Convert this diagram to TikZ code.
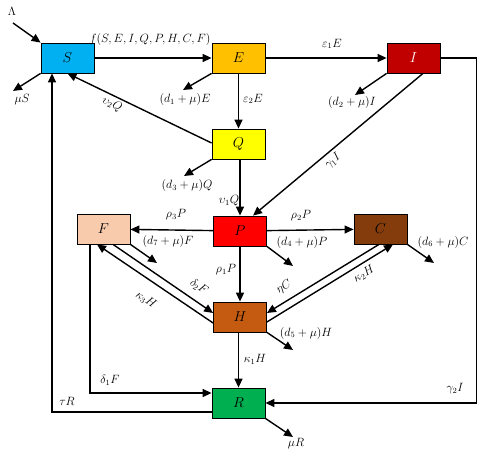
\documentclass[tikz,border=0pt]{standalone}
\usetikzlibrary{arrows.meta,calc}
\definecolor{cS}{RGB}{0,176,240}
\definecolor{cE}{RGB}{255,192,0}
\definecolor{cI}{RGB}{192,0,0}
\definecolor{cQ}{RGB}{255,255,0}
\definecolor{cP}{RGB}{255,0,0}
\definecolor{cF}{RGB}{248,203,173}
\definecolor{cC}{RGB}{132,60,12}
\definecolor{cH}{RGB}{197,90,17}
\definecolor{cR}{RGB}{0,176,80}
\begin{document}
\begin{tikzpicture}[x=1pt,y=-1pt,
  box/.style={draw,line width=0.8pt,minimum width=53pt,minimum height=30pt,inner sep=0pt,font=\fontsize{14}{16}\selectfont},
  arr/.style={line width=1.4pt,-{Triangle[length=9pt,width=8pt]}},
  lab/.style={font=\fontsize{12}{14}\selectfont,inner sep=0pt}]
\useasboundingbox (0,0) rectangle (492,462);
\node[box,fill=cS] (S) at (67.5,58) {$S$};
\node[box,fill=cE] (E) at (238.5,58) {$E$};
\node[box,fill=cI,text=white] (I) at (413.5,58) {$I$};
\node[box,fill=cQ] (Q) at (238.5,144) {$Q$};
\node[box,fill=cP] (P) at (240,231) {$P$};
\node[box,fill=cF] (F) at (103.5,229) {$F$};
\node[box,fill=cC] (C) at (380.5,229) {$C$};
\node[box,fill=cH] (H) at (240,317) {$H$};
\node[box,fill=cR] (R) at (238.5,403) {$R$};
% free ends
\coordinate (lam) at (13,23);
\coordinate (oS) at (13,91);
\coordinate (oE) at (183,90);
\coordinate (oI) at (355,95);
\coordinate (oQ) at (184,176);
\coordinate (oF) at (157,263);
\coordinate (oP) at (293,266);
\coordinate (oC) at (434,263);
\coordinate (oH) at (293,350);
\coordinate (oR) at (293,437);
% arrows
\draw[arr] (lam) -- (S.north west);
\draw[arr] (S.south west) -- (oS);
\draw[arr] (S) -- (E);
\draw[arr] (E) -- (I);
\draw[arr] (E.south west) -- (oE);
\draw[arr] (E) -- (Q);
\draw[arr] (I.south west) -- (oI);
\draw[arr] ($(I.south)+(9.5,0)$) -- ($(P.north)+(13,0)$);
\draw[arr] (I.east) -- ++(36,0) |- (R.east);
\draw[arr] ($(Q.west)+(0,-1)$) -- (S.south);
\draw[arr] (Q.south west) -- (oQ);
\draw[arr] (Q.south -| P.north) -- (P.north);
\draw[arr] (P) -- (F);
\draw[arr] (P) -- (C);
\draw[arr] (P) -- (H);
\draw[arr] (P.south east) -- (oP);
\draw[arr] (F.south east) -- (oF);
\draw[arr] (C.south east) -- (oC);
\draw[arr] ($(F.south)+(9.5,0)$) -- ($(H.west)+(0,-4)$);
\draw[arr] ($(H.west)+(0,6)$) -- ($(F.south)+(-6.5,0)$);
\draw[arr] ($(C.south)+(-1.5,0)$) -- ($(H.east)+(0,-4)$);
\draw[arr] ($(H.east)+(0,5)$) -- ($(C.south)+(12.5,0)$);
\draw[arr] (H.south east) -- (oH);
\draw[arr] (H.south -| R.north) -- (R.north);
\draw[arr] (R.south east) -- (oR);
\draw[arr] ($(F.south)+(-13.5,0)$) |- ($(R.west)+(0,-10)$);
\draw[arr] ($(R.west)+(0,9)$) -| ($(S.south)+(-15.5,0)$);
% labels
\node[lab] at (12,11) {$\Lambda$};
\node[lab] at (22,100) {$\mu S$};
\node[lab,font=\fontsize{11.5}{14}\selectfont] at (150,40) {$f(S,E,I,Q,P,H,C,F)$};
\node[lab] at (332,44) {$\varepsilon_1 E$};
\node[lab] at (185,100) {$(d_1+\mu)E$};
\node[lab] at (253,99) {$\varepsilon_2 E$};
\node[lab] at (352,103) {$(d_2+\mu)I$};
\node[lab,rotate=40] at (333,161) {$\gamma_1 I$};
\node[lab,rotate=-25] at (112,104) {$\upsilon_2 Q$};
\node[lab] at (187,186) {$(d_3+\mu)Q$};
\node[lab] at (229,201) {$\upsilon_1 Q$};
\node[lab] at (176,215) {$\rho_3 P$};
\node[lab] at (301,216) {$\rho_2 P$};
\node[lab] at (168,241) {$(d_7+\mu)F$};
\node[lab] at (302,242) {$(d_4+\mu)P$};
\node[lab] at (443,242) {$(d_6+\mu)C$};
\node[lab] at (226,270) {$\rho_1 P$};
\node[lab,rotate=-35] at (199,287) {$\delta_2 F$};
\node[lab,rotate=-35] at (146,300) {$\kappa_3 H$};
\node[lab,rotate=31] at (284,287) {$\eta C$};
\node[lab,rotate=31] at (364,274) {$\kappa_2 H$};
\node[lab] at (306,333) {$(d_5+\mu)H$};
\node[lab] at (255,359) {$\kappa_1 H$};
\node[lab] at (110,380) {$\delta_1 F$};
\node[lab] at (67,401) {$\tau R$};
\node[lab] at (455,389) {$\gamma_2 I$};
\node[lab] at (296,444) {$\mu R$};
\end{tikzpicture}
\end{document}
